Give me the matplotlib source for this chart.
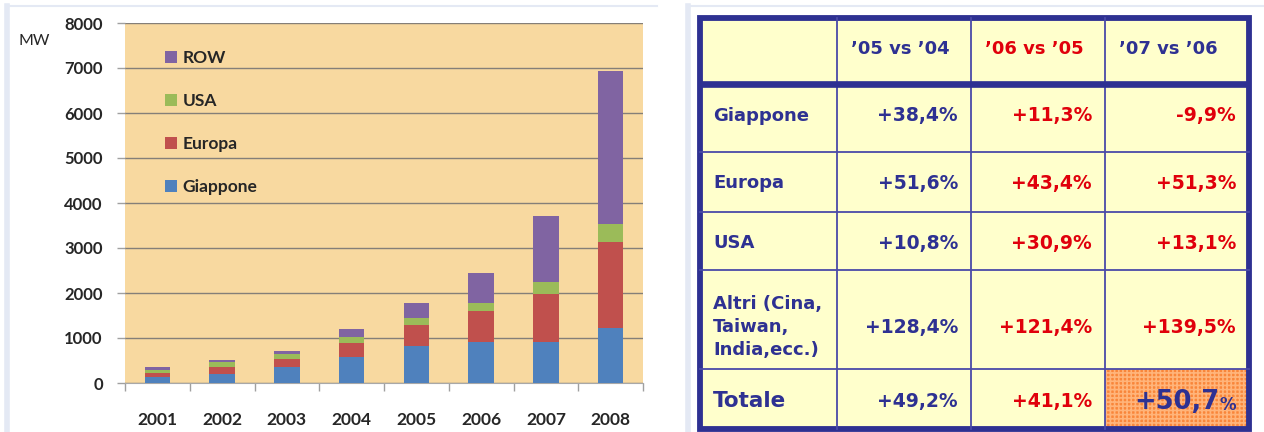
import matplotlib
matplotlib.use("Agg")
import matplotlib.pyplot as plt
from matplotlib.patches import Rectangle, Patch

# ---- Installed PV capacity by region (MW) ----
years = ['2001', '2002', '2003', '2004', '2005', '2006', '2007', '2008']
giappone = [125, 205, 360, 575, 822, 918, 918, 1215]
europa = [97, 145, 180, 303, 467, 675, 1060, 1911]
usa = [74, 115, 100, 140, 155, 185, 274, 415]
row = [51, 40, 80, 174, 326, 659, 1459, 3400]

series_names = ['Giappone', 'Europa', 'USA', 'ROW']
series_colors = ['#4F81BD', '#C0504D', '#9BBB59', '#8064A2']
y_ticks = [0, 1000, 2000, 3000, 4000, 5000, 6000, 7000, 8000]

# ---- Year-on-year growth table ----
col_headers = ['\u201905 vs \u201904', '\u201906 vs \u201905', '\u201907 vs \u201906']
row_labels = ['Giappone', 'Europa', 'USA', 'Altri (Cina,\nTaiwan,\nIndia,ecc.)', 'Totale']
growth = [
    ['+38,4%', '+11,3%', '-9,9%'],
    ['+51,6%', '+43,4%', '+51,3%'],
    ['+10,8%', '+30,9%', '+13,1%'],
    ['+128,4%', '+121,4%', '+139,5%'],
    ['+49,2%', '+41,1%', '+50,7%'],
]

NAVY = '#2E3192'
RED = '#E0000B'
W, H = 1264, 432

fig = plt.figure(figsize=(W / 100, H / 100), dpi=100)
fig.patch.set_facecolor('white')

# ---------------- stacked bar chart ----------------
ax = fig.add_axes([125 / W, 49 / H, 518 / W, 360 / H])
ax.set_facecolor('#F8D9A0')
x = list(range(len(years)))
bottom = [0] * len(years)
bars = []
for vals, color in zip([giappone, europa, usa, row], series_colors):
    b = ax.bar(x, vals, width=0.39, bottom=bottom, color=color, linewidth=0, zorder=3)
    bars.append(b)
    bottom = [b0 + v for b0, v in zip(bottom, vals)]

ax.set_xlim(-0.5, len(years) - 0.5)
ax.set_ylim(0, 8000)
ax.set_yticks(y_ticks)
ax.set_yticklabels([str(t) for t in y_ticks], fontfamily='Lato', fontweight='bold',
                   fontsize=12, color='#262626')
ax.yaxis.grid(True, color='#857F78', linewidth=1.0, zorder=1)
ax.set_axisbelow(True)
ax.tick_params(axis='y', length=6, width=1, color='#A0A0A0', pad=10)

ax.set_xticks(x)
ax.set_xticklabels(years, fontfamily='Lato', fontweight='bold', fontsize=12.5, color='#262626')
ax.set_xticks([i - 0.5 for i in range(len(years) + 1)], minor=True)
ax.tick_params(axis='x', which='major', length=0, pad=21)
ax.tick_params(axis='x', which='minor', length=6, width=1, color='#A0A0A0')

for side in ['left', 'right', 'top']:
    ax.spines[side].set_visible(False)
ax.spines['bottom'].set_color('#A8A8A8')

fig.text(18 / W, 1 - 41 / H, 'MW', fontfamily='Lato', fontsize=11.5, color='#262626',
         va='center', ha='left')

handles = [Patch(facecolor=c, edgecolor='none') for c in series_colors][::-1]
ax.legend(handles, series_names[::-1], loc='upper left',
          bbox_to_anchor=(0.078, 0.925), frameon=False, borderpad=0, borderaxespad=0,
          handlelength=0.65, handleheight=0.65, handletextpad=0.35, labelspacing=1.56,
          prop={'family': 'Lato', 'weight': 'bold', 'size': 12.5},
          labelcolor='#262626')

# ---------------- growth table ----------------
tx = fig.add_axes([0, 0, 1, 1])
tx.set_xlim(0, W)
tx.set_ylim(H, 0)
tx.axis('off')

# panel frames (top and left edges)
frame = '#E4E9F4'
tx.plot([7, 7], [6, H], color=frame, linewidth=4)
tx.plot([7, 657], [6, 6], color=frame, linewidth=1.5)
tx.plot([688, 688], [6, H], color=frame, linewidth=4)
tx.plot([688, W], [6, 6], color=frame, linewidth=1.5)

col_edges = [700, 837, 971, 1105, 1249]
row_edges = [18, 84, 152, 212, 270, 369, 429]

tx.add_patch(Rectangle((col_edges[0], row_edges[0]), col_edges[-1] - col_edges[0],
                       row_edges[-1] - row_edges[0], facecolor='#FFFFCC', edgecolor='none'))

# highlighted total cell
plt.rcParams['hatch.linewidth'] = 1.2
tx.add_patch(Rectangle((col_edges[3], row_edges[5]), col_edges[4] - col_edges[3],
                       row_edges[6] - row_edges[5], facecolor='#F9863A',
                       edgecolor='#FFB47A', hatch='++++', linewidth=0))

# inner grid lines
for xc in col_edges[1:-1]:
    tx.plot([xc, xc], [row_edges[0], row_edges[-1]], color='#4A4AA8', linewidth=1.3)
for yr in row_edges[2:-1]:
    tx.plot([col_edges[0], col_edges[-1]], [yr, yr], color='#4A4AA8', linewidth=1.3)
tx.plot([col_edges[0], col_edges[-1]], [row_edges[1], row_edges[1]], color=NAVY,
        linewidth=4.8, solid_capstyle='butt')
tx.add_patch(Rectangle((col_edges[0], row_edges[0]), col_edges[-1] - col_edges[0],
                       row_edges[-1] - row_edges[0], fill=False, edgecolor=NAVY,
                       linewidth=4.2, joinstyle='miter'))

header_colors = [NAVY, RED, NAVY]
value_colors = [NAVY, RED, RED]
font = 'DejaVu Sans'

for j, (hdr, hc) in enumerate(zip(col_headers, header_colors)):
    tx.text(col_edges[j + 1] + 14, 49, hdr, color=hc, fontfamily=font, fontweight='bold',
            fontsize=13, ha='left', va='center')

row_centers = [116, 183, 243, 327, 401]
value_right = [958, 1092, 1236]
for i, (lab, yc) in enumerate(zip(row_labels, row_centers)):
    is_total = lab == 'Totale'
    tx.text(713, yc, lab, color=NAVY, fontfamily=font, fontweight='bold',
            fontsize=15.5 if is_total else 13, ha='left', va='center',
            linespacing=1.35)
    for j, val in enumerate(growth[i]):
        if is_total and j == 2:
            tx.text(value_right[j], yc + 4, val[-1], color=NAVY, fontfamily=font,
                    fontweight='bold', fontsize=12, ha='right', va='center')
            tx.text(value_right[j] - 17, yc + 1, val[:-1], color=NAVY, fontfamily=font,
                    fontweight='bold', fontsize=18.5, ha='right', va='center')
            continue
        color = NAVY if j == 0 else RED
        tx.text(value_right[j], yc, val, color=color, fontfamily=font, fontweight='bold',
                fontsize=13.5, ha='right', va='center')

fig.savefig('out.png', dpi=100)
